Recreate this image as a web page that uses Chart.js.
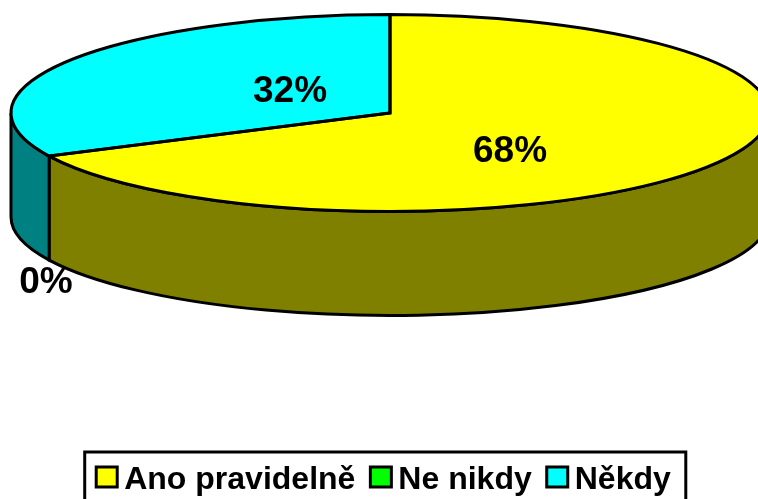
<!DOCTYPE html>
<html>
<head>
<meta charset="utf-8">
<title>Pie</title>
<script src="https://cdn.jsdelivr.net/npm/chart.js@4"></script>
<style>
html, body { margin: 0; padding: 0; background: #fff; overflow: hidden; }
canvas { display: block; }
</style>
</head>
<body>
<canvas id="myChart" width="758" height="506"></canvas>
<script>
var categories = ['Ano pravidelně', 'Ne nikdy', 'Někdy'];
var values = [67.8, 0, 32.2];
var topColors = ['#ffff00', '#00ff00', '#00ffff'];
var sideColors = ['#808000', '#008000', '#008080'];

// flattened pie, library arcs get squeezed onto this ellipse
var pie = { cx: 390, cy: 113, rx: 379, ry: 98.5, depth: 104 };
var labelOffsets = [[120, 39], [-344, 170], [-100, -21]];
var lineW = 3;

function squash(ctx, el) {
    ctx.translate(pie.cx, pie.cy);
    ctx.scale(pie.rx / el.outerRadius, pie.ry / el.outerRadius);
    ctx.translate(-el.x, -el.y);
}

var pie3d = {
    id: 'pie3d',
    beforeDatasetDraw: function (chart, args) {
        var ctx = chart.ctx;
        var arcs = args.meta.data;
        // side wall, only the front half of the rim shows
        arcs.forEach(function (el, i) {
            var a = Math.max(el.startAngle, 0);
            var b = Math.min(el.endAngle, Math.PI);
            if (b <= a) return;
            ctx.beginPath();
            ctx.ellipse(pie.cx, pie.cy, pie.rx, pie.ry, 0, a, b);
            ctx.ellipse(pie.cx, pie.cy + pie.depth, pie.rx, pie.ry, 0, b, a, true);
            ctx.closePath();
            ctx.fillStyle = sideColors[i];
            ctx.fill();
            ctx.lineWidth = lineW;
            ctx.strokeStyle = '#000';
            ctx.stroke();
        });
        ctx.save();
        squash(ctx, arcs[0]);
    },
    afterDatasetDraw: function (chart, args) {
        var ctx = chart.ctx;
        ctx.restore();
        args.meta.data.forEach(function (el, i) {
            if (values[i] === 0) return;
            ctx.save();
            squash(ctx, el);
            ctx.beginPath();
            ctx.moveTo(el.x, el.y);
            ctx.arc(el.x, el.y, el.outerRadius, el.startAngle, el.endAngle);
            ctx.closePath();
            ctx.restore();
            ctx.lineWidth = lineW;
            ctx.strokeStyle = '#000';
            ctx.stroke();
        });
    },
    afterDraw: function (chart) {
        var ctx = chart.ctx;
        ctx.fillStyle = '#000';
        ctx.font = 'bold 37px "Liberation Sans"';
        ctx.textAlign = 'center';
        ctx.textBaseline = 'middle';
        values.forEach(function (v, i) {
            ctx.fillText(Math.round(v) + '%', pie.cx + labelOffsets[i][0], pie.cy + labelOffsets[i][1]);
        });
        // legend frame and the bigger swatches
        var hits = chart.legend.legendHitBoxes;
        var last = hits[hits.length - 1];
        ctx.lineWidth = lineW;
        ctx.strokeStyle = '#000';
        ctx.strokeRect(hits[0].left - 10.5, 452, last.left + last.width + 15 - hits[0].left + 10.5, 70);
        hits.forEach(function (h, i) {
            ctx.fillStyle = topColors[i];
            ctx.fillRect(h.left + 1, 467, 21, 20);
            ctx.strokeRect(h.left + 1, 467, 21, 20);
        });
    }
};

var ctx = document.getElementById('myChart');
var chart = new Chart(ctx, {
    type: 'pie',
    data: {
        labels: categories,
        datasets: [{
            data: values,
            backgroundColor: topColors,
            borderWidth: 0,
            clip: false
        }]
    },
    options: {
        responsive: false,
        animation: false,
        layout: { padding: { left: 8 } },
        plugins: {
            tooltip: { enabled: false },
            legend: {
                position: 'bottom',
                labels: {
                    boxWidth: 13,
                    padding: 14,
                    color: '#000',
                    font: { family: '"Liberation Sans"', size: 32, weight: 'bold' },
                    generateLabels: function () {
                        return categories.map(function (c, i) {
                            return { text: c, fillStyle: 'rgba(0,0,0,0)', strokeStyle: 'rgba(0,0,0,0)', lineWidth: 0, index: i };
                        });
                    }
                }
            }
        }
    },
    plugins: [pie3d]
});
</script>
</body>
</html>
